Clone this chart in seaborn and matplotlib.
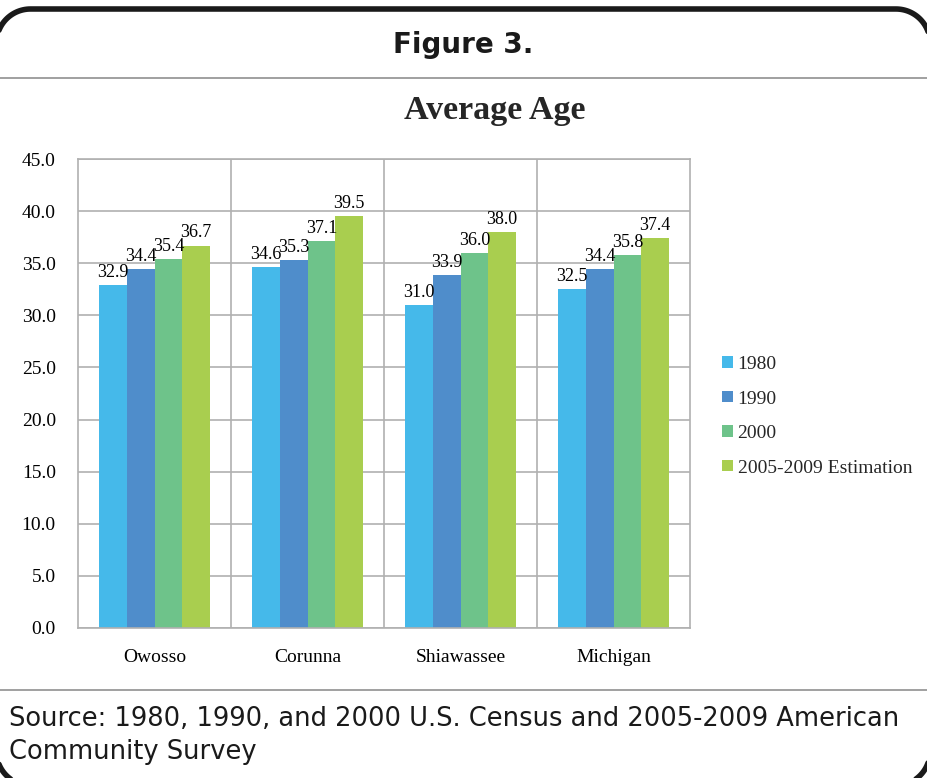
import numpy as np
import pandas as pd
import seaborn as sns
import matplotlib.pyplot as plt
from matplotlib.lines import Line2D
from matplotlib.transforms import Affine2D

# chart data
places = ['Owosso', 'Corunna', 'Shiawassee', 'Michigan']
years = ['1980', '1990', '2000', '2005-2009 Estimation']
age_1980 = [32.9, 34.6, 31.0, 32.5]
age_1990 = [34.4, 35.3, 33.9, 34.4]
age_2000 = [35.4, 37.1, 36.0, 35.8]
age_2009 = [36.7, 39.5, 38.0, 37.4]
colors = ['#45B9EA', '#4F8DCB', '#6EC38A', '#A9CE4F']
y_ticks = np.arange(0, 46, 5)

df = pd.DataFrame({
    'place': places * 4,
    'year': [y for y in years for _ in places],
    'age': age_1980 + age_1990 + age_2000 + age_2009,
})

sns.set_theme(style='white')
plt.rcParams['font.family'] = ['Liberation Serif', 'DejaVu Sans']

W, H = 927, 778
fig = plt.figure(figsize=(W / 100, H / 100), dpi=100)
ax = fig.add_axes([78 / W, 150 / H, 612 / W, 469 / H])

sns.barplot(data=df, x='place', y='age', hue='year', palette=colors,
            width=0.725, gap=0, saturation=1, linewidth=0, ax=ax, legend=True)

for cont in ax.containers:
    ax.bar_label(cont, fmt='%.1f', padding=3, fontsize=13, color='black')

ax.set_ylim(0, 45)
ax.set_xlim(-0.5, 3.5)
ax.set_yticks(y_ticks)
ax.set_yticklabels([f'{v:.1f}' for v in y_ticks])
ax.set_xticks([0.5, 1.5, 2.5], minor=True)
ax.grid(axis='y', which='major', color='#b0b0b0', lw=1.2)
ax.grid(axis='x', which='minor', color='#b0b0b0', lw=1.2)
ax.set_axisbelow(True)
ax.tick_params(axis='both', which='both', length=0, labelsize=14, colors='black')
ax.tick_params(axis='x', pad=15)
ax.tick_params(axis='y', pad=16)
ax.set_xlabel('')
ax.set_ylabel('')
for s in ax.spines.values():
    s.set_color('#b0b0b0')
    s.set_linewidth(1.2)

handles, labels = ax.get_legend_handles_labels()
ax.legend_.remove()
fig.legend(handles, labels, loc='upper left', bbox_to_anchor=(722 / W, 1 - 356 / H),
           frameon=False, fontsize=14, handlelength=0.55, handleheight=0.55,
           handletextpad=0.25, labelspacing=0.9, borderpad=0, borderaxespad=0)

# titles and source
fig.text(0.5, 1 - 45 / H, 'Figure 3.', ha='center', va='center',
         fontsize=20, fontweight='bold', family='DejaVu Sans', color='#1a1a1a')
fig.text(495 / W, 1 - 111 / H, 'Average Age', ha='center', va='center',
         fontsize=24.5, fontweight='bold')
fig.text(9 / W, 1 - 706 / H, 'Source: 1980, 1990, and 2000 U.S. Census and 2005-2009 American\nCommunity Survey',
         ha='left', va='top', fontsize=18.5, family='DejaVu Sans', color='#1a1a1a',
         linespacing=1.36)

# separator lines
for yy in [78, 690]:
    fig.add_artist(Line2D([0, 1], [1 - yy / H, 1 - yy / H], transform=fig.transFigure,
                          color='#999999', lw=1.3))

# rounded frame as a polyline, in pixel units (origin bottom-left)
px = Affine2D().scale(1 / W, 1 / H) + fig.transFigure
left, right, bottom, top, r = -3.5, 930, -7.5, 769, 34
t = np.linspace(0, np.pi / 2, 30)
fx, fy = [], []
for cx, cy, a0 in [(right - r, top - r, 0), (left + r, top - r, np.pi / 2),
                   (left + r, bottom + r, np.pi), (right - r, bottom + r, 1.5 * np.pi)]:
    fx.extend(cx + r * np.cos(a0 + t))
    fy.extend(cy + r * np.sin(a0 + t))
fx.append(fx[0])
fy.append(fy[0])
fig.add_artist(Line2D(fx, fy, transform=px, color='#1a1a1a', lw=4,
                      solid_joinstyle='round'))

fig.savefig('out.png', dpi=100)
